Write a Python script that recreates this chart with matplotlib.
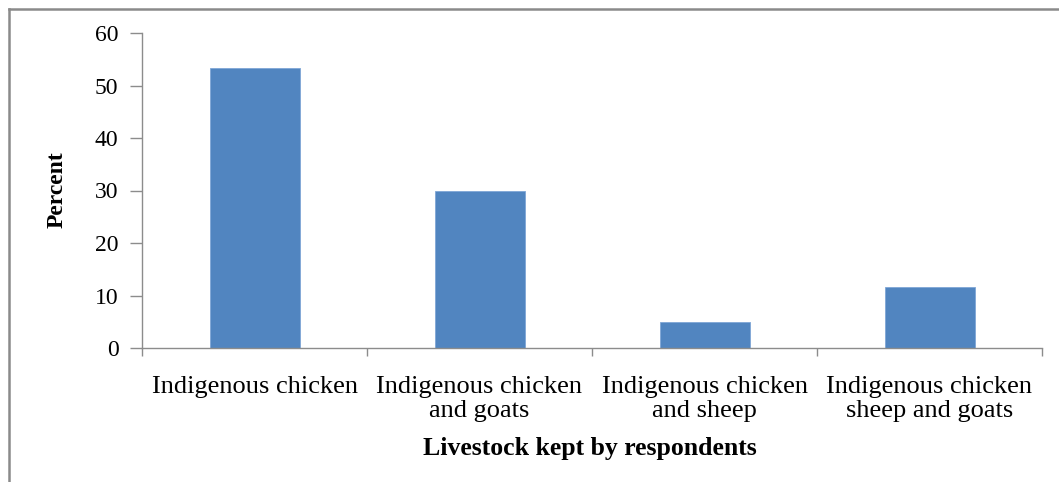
import matplotlib
matplotlib.use("Agg")
import matplotlib.pyplot as plt
from matplotlib.lines import Line2D
import numpy as np

categories = [
    "Indigenous chicken",
    "Indigenous chicken\nand goats",
    "Indigenous chicken\nand sheep",
    "Indigenous chicken\nsheep and goats",
]
percent = [53.3, 30.0, 5.0, 11.7]
y_ticks = [0, 10, 20, 30, 40, 50, 60]

plt.rcParams["font.family"] = ["Liberation Serif", "DejaVu Serif"]
axis_grey = "#8c8c8c"

fig = plt.figure(figsize=(10.59, 4.82), dpi=100)
ax = fig.add_axes([142 / 1059, 1 - 348 / 482, 900 / 1059, 315 / 482])

x = np.arange(len(categories))
ax.bar(x, percent, width=0.4, color="#5185c0", edgecolor="#7fa6d6", linewidth=0.6)

ax.set_xlim(-0.5, len(categories) - 0.5)
ax.set_ylim(0, 60)
ax.set_yticks(y_ticks)
ax.set_xticks(x)
ax.set_xticklabels(categories, fontsize=19, linespacing=1.12)
ax.set_xticks(np.arange(len(categories) + 1) - 0.5, minor=True)
ax.tick_params(axis="x", which="major", length=0, pad=20)
ax.tick_params(axis="x", which="minor", length=6, width=1, color=axis_grey)
ax.tick_params(axis="y", length=9, width=1, color=axis_grey, labelsize=17, pad=8)

for side in ("top", "right"):
    ax.spines[side].set_visible(False)
for side in ("left", "bottom"):
    ax.spines[side].set_color(axis_grey)
    ax.spines[side].set_linewidth(1)

fig.text(57 / 1059, 1 - 190 / 482, "Percent", rotation=90, fontsize=17,
         fontweight="bold", ha="center", va="center")
fig.text(590 / 1059, 1 - 449 / 482, "Livestock kept by respondents", fontsize=18.5,
         fontweight="bold", ha="center", va="center")

# chart-area frame (top and left edges)
fig.add_artist(Line2D([8.5 / 1059, 8.5 / 1059], [0, 1 - 8.5 / 482],
                      transform=fig.transFigure, color="#8a8a8a", linewidth=1.8))
fig.add_artist(Line2D([8.5 / 1059, 1], [1 - 8.5 / 482, 1 - 8.5 / 482],
                      transform=fig.transFigure, color="#8a8a8a", linewidth=1.8))

fig.savefig("out.png", dpi=100)
